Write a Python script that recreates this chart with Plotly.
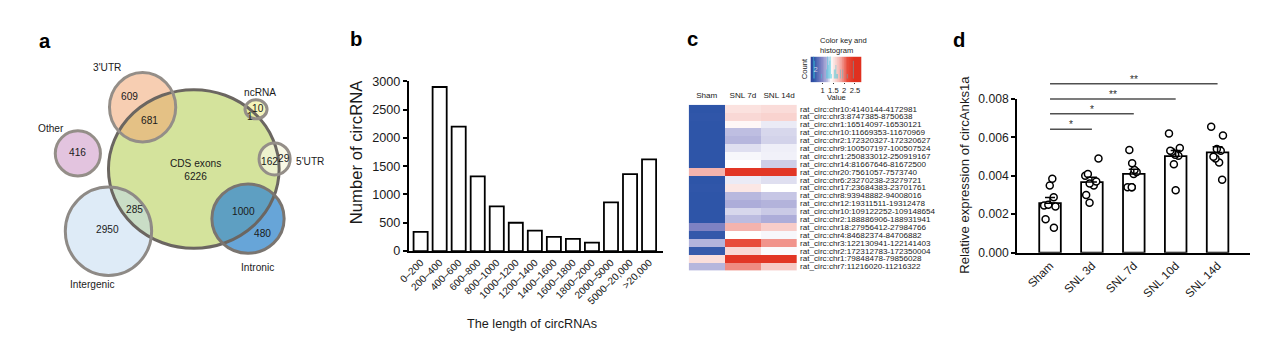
import numpy as np
import plotly.graph_objects as go

# ---------------- data ----------------
# a: genomic origin of circRNAs (counts per Venn region)
venn_regions = ["CDS exons", "3'UTR", "3'UTR+CDS", "ncRNA", "ncRNA+CDS", "5'UTR+CDS",
                "5'UTR", "Other", "Intergenic", "Intergenic+CDS", "Intronic+CDS", "Intronic"]
venn_counts = [6226, 609, 681, 10, 1, 162, 29, 416, 2950, 285, 1000, 480]

# b: length distribution
length_bins = ["0–200", "200–400", "400–600", "600–800", "800–1000", "1000–1200",
               "1200–1400", "1400–1600", "1600–1800", "1800–2000", "2000–5000",
               "5000–20,000", ">20,000"]
circ_counts = [340, 2900, 2200, 1320, 790, 500, 360, 250, 215, 150, 860, 1360, 1620]

# c: heatmap of differentially expressed circRNAs
heat_groups = ["Sham", "SNL 7d", "SNL 14d"]
circ_ids = [
    "rat_circ:chr10:4140144-4172981",
    "rat_circ:chr3:8747385-8750638",
    "rat_circ:chr1:16514097-16530121",
    "rat_circ:chr10:11669353-11670969",
    "rat_circ:chr2:172320327-172320627",
    "rat_circ:chr9:100507197-100507524",
    "rat_circ:chr1:250833012-250919167",
    "rat_circ:chr14:81667646-81672500",
    "rat_circ:chr20:7561057-7573740",
    "rat_circ:chr6:23270238-23279721",
    "rat_circ:chr17:23684383-23701761",
    "rat_circ:chr8:93948882-94008016",
    "rat_circ:chr12:19311511-19312478",
    "rat_circ:chr10:109122252-109148654",
    "rat_circ:chr2:188886906-188931941",
    "rat_circ:chr18:27956412-27984766",
    "rat_circ:chr4:84682374-84706882",
    "rat_circ:chr3:122130941-122141403",
    "rat_circ:chr2:172312783-172350004",
    "rat_circ:chr1:79848478-79856028",
    "rat_circ:chr7:11216020-11216322",
]
sham_expr = [0.59, 0.60, 0.59, 0.59, 0.59, 0.59, 0.59, 0.59, 1.80, 0.59, 0.60,
             0.59, 0.59, 0.59, 0.59, 0.95, 0.62, 1.205, 0.63, 1.57, 1.21]
snl7_expr = [1.55, 1.60, 1.43, 1.23, 1.21, 1.31, 1.37, 1.39, 2.40, 1.34, 1.52,
             1.215, 1.17, 1.29, 1.225, 1.80, 1.39, 2.15, 1.60, 2.40, 1.95]
snl14_expr = [1.58, 1.63, 1.34, 1.29, 1.28, 1.35, 1.355, 1.27, 2.40, 1.31, 1.39,
              1.25, 1.20, 1.26, 1.17, 1.66, 1.37, 1.92, 1.38, 2.40, 1.68]

# d: qPCR of circAnks1a
qpcr_groups = ["Sham", "SNL 3d", "SNL 7d", "SNL 10d", "SNL 14d"]
qpcr_sham = [0.00350, 0.00385, 0.00288, 0.00246, 0.00250, 0.00240, 0.00174, 0.00129]
qpcr_snl3 = [0.00490, 0.00400, 0.00410, 0.00360, 0.00370, 0.00350, 0.00300, 0.00260]
qpcr_snl7 = [0.00535, 0.00465, 0.00430, 0.00410, 0.00420, 0.00340, 0.00340, 0.00340]
qpcr_snl10 = [0.00620, 0.00545, 0.00530, 0.00525, 0.00510, 0.00505, 0.00460, 0.00325]
qpcr_snl14 = [0.00655, 0.00610, 0.00540, 0.00530, 0.00490, 0.00500, 0.00470, 0.00380]
sig_targets = ["SNL 3d", "SNL 7d", "SNL 10d", "SNL 14d"]
sig_marks = ["*", "*", "**", "**"]

# ---------------- page geometry ----------------
W, H = 1269, 337
# the html page keeps the browser's default 8px body margin, so the whole
# page (1285 x 353) ends up scaled into the 1269 x 337 frame
BODY = 8
SX = (W + 2 * BODY) / W
SY = (H + 2 * BODY) / H
FONT = "Liberation Sans, Arial, Helvetica, sans-serif"
INK = "#1a1a1a"


def fx(x):
    """frame x (px) -> paper fraction"""
    return (x * SX - BODY) / W


def fy(y):
    """frame y (px from top) -> paper fraction"""
    return 1 - (y * SY - BODY) / H


def fs(size):
    return round(size * SX, 2)


fig = go.Figure()
shapes = []
annotations = []

# ---------------- a: Venn diagram ----------------
A_X0, A_X1, A_Y0, A_Y1 = 10, 330, 10, 329
venn_geometry = {
    "CDS exons": dict(box=(105, 90, 275, 248), fill="#d4e39c", edge="#6b6661"),
    "Other": dict(box=(52, 131, 97, 176), fill="#e3c4df", edge="#948e88"),
    "Intergenic": dict(box=(62, 187, 148, 275), fill="rgba(190,215,240,0.5)", edge="#8e8a86"),
    "Intronic": dict(box=(208, 184, 280, 253), fill="rgba(60,140,205,0.78)", edge="#7a7570"),
    "3'UTR": dict(box=(106, 73, 172, 142), fill="rgba(240,165,115,0.55)", edge="#948e88"),
    "ncRNA": dict(box=(241, 100, 263, 119), fill="rgba(240,240,150,0.65)", edge="#948e88"),
    "5'UTR": dict(box=(255, 143, 286, 175), fill="rgba(246,246,222,0.75)", edge="#948e88"),
}
for g in venn_geometry.values():
    x0, y0, x1, y1 = g["box"]
    shapes.append(dict(type="circle", xref="x", yref="y", x0=x0, y0=y0, x1=x1, y1=y1,
                       fillcolor=g["fill"], line=dict(width=0), layer="above"))
for g in venn_geometry.values():
    x0, y0, x1, y1 = g["box"]
    shapes.append(dict(type="circle", xref="x", yref="y", x0=x0, y0=y0, x1=x1, y1=y1,
                       fillcolor="rgba(0,0,0,0)", line=dict(width=3, color=g["edge"]),
                       layer="above"))

set_label_pos = {
    "3'UTR": (104, 68, "center"), "ncRNA": (256, 93, "center"), "Other": (48, 129, "center"),
    "5'UTR": (290, 162, "left"), "Intergenic": (89, 284, "center"), "Intronic": (253, 267, "center"),
}
for name, (x, y, anc) in set_label_pos.items():
    annotations.append(dict(xref="x", yref="y", x=x, y=y, text=name, showarrow=False,
                            xanchor=anc, font=dict(size=fs(10), color=INK, family=FONT)))

region_pos = {
    "CDS exons": (192, 169.5), "3'UTR": (126, 97), "3'UTR+CDS": (146, 121),
    "ncRNA": (253.5, 109), "ncRNA+CDS": (246, 117), "5'UTR+CDS": (265, 162),
    "5'UTR": (279.5, 159), "Other": (74, 153), "Intergenic": (104, 229),
    "Intergenic+CDS": (131, 209), "Intronic+CDS": (240, 211), "Intronic": (258, 233),
}
for name, count in zip(venn_regions, venn_counts):
    x, y = region_pos[name]
    text = f"CDS exons<br>{count}" if name == "CDS exons" else str(count)
    annotations.append(dict(xref="x", yref="y", x=x, y=y, text=text, showarrow=False,
                            font=dict(size=fs(10), color=INK, family=FONT)))

fig.add_trace(go.Scatter(x=[], y=[], xaxis="x", yaxis="y", showlegend=False, hoverinfo="skip"))

# ---------------- b: length histogram ----------------
fig.add_trace(go.Bar(x=length_bins, y=circ_counts, xaxis="x2", yaxis="y2", width=0.74,
                     marker=dict(color="white", line=dict(color="black", width=1.8)),
                     showlegend=False))

# ---------------- c: heatmap + colour key ----------------
ZMIN, ZMAX = 0.43, 2.47
heat_scale = [
    [0.0, "#2d3c98"], [0.08, "#2e55a8"], [0.25, "#7c80c2"], [0.38, "#b4b4dc"],
    [0.47, "#ffffff"], [0.58, "#f9d6d2"], [0.70, "#f3a8a2"], [0.84, "#e84d3c"],
    [1.0, "#e0301f"],
]
heat_z = np.column_stack([sham_expr, snl7_expr, snl14_expr])
fig.add_trace(go.Heatmap(z=heat_z, x=heat_groups, y=circ_ids, xaxis="x3", yaxis="y3",
                         colorscale=heat_scale, zmin=ZMIN, zmax=ZMAX, showscale=False))

KEY_X0, KEY_X1 = 0.44, 2.81
KEY_YMIN, KEY_YMAX = -0.9, 4.93
key_edges = np.linspace(KEY_X0, KEY_X1, 81)
key_mid = (key_edges[:-1] + key_edges[1:]) / 2
fig.add_trace(go.Heatmap(z=[key_mid], x=key_edges, y=[KEY_YMIN, KEY_YMAX], xaxis="x4",
                         yaxis="y4", colorscale=heat_scale, zmin=ZMIN, zmax=ZMAX,
                         showscale=False, hoverinfo="skip"))
all_expr = np.concatenate([sham_expr, snl7_expr, snl14_expr])
fig.add_trace(go.Histogram(x=all_expr, xaxis="x4", yaxis="y4",
                           xbins=dict(start=KEY_X0, end=KEY_X1, size=0.04),
                           marker=dict(color="rgba(60,200,220,0.8)"), showlegend=False))

# ---------------- d: circAnks1a expression ----------------
qpcr_sets = [qpcr_sham, qpcr_snl3, qpcr_snl7, qpcr_snl10, qpcr_snl14]
means = [float(np.mean(v)) for v in qpcr_sets]
sems = [float(np.std(v, ddof=1) / np.sqrt(len(v))) for v in qpcr_sets]

fig.add_trace(go.Bar(x=qpcr_groups, y=means, xaxis="x5", yaxis="y5", width=0.515,
                     marker=dict(color="white", line=dict(color="black", width=1.8)),
                     showlegend=False))
pts_x = [g for g, v in zip(qpcr_groups, qpcr_sets) for _ in v]
pts_y = [y for v in qpcr_sets for y in v]
fig.add_trace(go.Box(x=pts_x, y=pts_y, xaxis="x5", yaxis="y5", boxpoints="all",
                     jitter=0.75, pointpos=0, width=0.5,
                     fillcolor="rgba(0,0,0,0)", line=dict(color="rgba(0,0,0,0)", width=0),
                     marker=dict(symbol="circle", size=7, color="white",
                                 line=dict(color="black", width=1.5)),
                     showlegend=False, hoverinfo="skip"))
fig.add_trace(go.Scatter(x=qpcr_groups, y=means, xaxis="x5", yaxis="y5", mode="markers",
                         marker=dict(size=1, opacity=0),
                         error_y=dict(type="data", array=sems, arrayminus=[0] * len(sems),
                                      symmetric=False, color="black", thickness=1.5, width=5),
                         showlegend=False, hoverinfo="skip"))

# significance brackets on an overlay sharing the x scale of panel d
fig.add_trace(go.Scatter(x=[], y=[], xaxis="x6", yaxis="y6", showlegend=False, hoverinfo="skip"))
bracket_levels = [0.00643, 0.00723, 0.0080, 0.0088]
for target, mark, lvl in zip(sig_targets, sig_marks, bracket_levels):
    k = qpcr_groups.index(target)
    shapes.append(dict(type="line", xref="x6", yref="y6", x0=0, x1=k, y0=lvl, y1=lvl,
                       line=dict(color="#505050", width=1.5)))
    annotations.append(dict(xref="x6", yref="y6", x=k / 2, y=lvl, text=mark, showarrow=False,
                            yanchor="bottom", yshift=-3,
                            font=dict(size=fs(10), color="#303030", family=FONT)))


# ---------------- free text ----------------
def note(x, y, text, size, angle=0, bold=False, anchor="center", align="center"):
    annotations.append(dict(xref="paper", yref="paper", x=fx(x), y=fy(y),
                            text=f"<b>{text}</b>" if bold else text, showarrow=False,
                            textangle=angle, xanchor=anchor, yanchor="middle", align=align,
                            font=dict(size=fs(size), color=INK if not bold else "black",
                                      family=FONT)))


note(42, 42, "a", 20, bold=True)
note(352, 40, "b", 20, bold=True)
note(687, 40, "c", 20, bold=True)
note(952, 41, "d", 20, bold=True)

note(353, 152, "Number of circRNA", 16.5, angle=-90)
note(527, 323, "The length of circRNAs", 12.5)
note(957, 175, "Relative expression of circAnks1a", 13, angle=-90)
note(812, 46, "Color key and<br>histogram", 7.5, anchor="left", align="left")
note(830, 98, "Value", 7.5)
note(798.5, 69, "Count", 7.5, angle=-90)

# ---------------- axes ----------------
axis_line = dict(showline=True, linecolor="black", linewidth=1.5, showgrid=False,
                 zeroline=False)
hidden = dict(visible=False, showgrid=False, zeroline=False)

fig.update_layout(
    width=W, height=H, autosize=False,
    margin=dict(l=0, r=0, t=0, b=0),
    paper_bgcolor="white", plot_bgcolor="rgba(0,0,0,0)",
    font=dict(family=FONT, color=INK),
    showlegend=False, bargap=0.35,
    shapes=shapes, annotations=annotations,
    xaxis=dict(domain=[fx(A_X0), fx(A_X1)], range=[A_X0, A_X1], anchor="y", **hidden),
    yaxis=dict(domain=[fy(A_Y1), fy(A_Y0)], range=[A_Y1, A_Y0], anchor="x", **hidden),
    xaxis2=dict(domain=[fx(404), fx(657)], anchor="y2", range=[-0.63, 12.71],
                type="category", tickangle=-45, ticks="",
                tickfont=dict(size=fs(10), color=INK), **axis_line),
    yaxis2=dict(domain=[fy(250.7), fy(81.7)], anchor="x2", range=[0, 3000],
                tickvals=[0, 500, 1000, 1500, 2000, 2500, 3000], ticks="outside",
                ticklen=4, tickwidth=1.5, tickcolor="black",
                tickfont=dict(size=fs(12.5), color=INK), **axis_line),
    xaxis3=dict(domain=[fx(683), fx(791)], anchor="y3", side="top", ticks="",
                showline=False, showgrid=False, zeroline=False, ticklabelstandoff=4,
                tickfont=dict(size=fs(8), color=INK)),
    yaxis3=dict(domain=[fy(270), fy(105)], anchor="x3", side="right", ticks="",
                tickmode="array", tickvals=circ_ids,
                autorange="reversed", showline=False, showgrid=False, zeroline=False,
                tickfont=dict(size=fs(8), color=INK), ticklabelstandoff=2),
    xaxis4=dict(domain=[fx(804.3), fx(855.3)], anchor="y4", range=[KEY_X0, KEY_X1],
                tickvals=[1, 1.5, 2, 2.5], ticktext=["1", "1.5", "2", "2.5"],
                ticks="outside", ticklen=1, tickcolor="#333", showline=False,
                showgrid=False, zeroline=False, tickfont=dict(size=fs(7.5), color=INK)),
    yaxis4=dict(domain=[fy(82.7), fy(57)], anchor="x4", range=[KEY_YMIN, KEY_YMAX],
                tickvals=[0, 2, 4], ticks="", ticklabelposition="inside",
                showline=False, showgrid=False, zeroline=False, layer="above traces",
                tickfont=dict(size=fs(7.5), color="#cfd3e8")),
    xaxis5=dict(domain=[fx(1010), fx(1242)], anchor="y5", range=[-0.79, 4.77],
                type="category", tickangle=-45, ticks="",
                tickfont=dict(size=fs(11.5), color=INK), **axis_line),
    yaxis5=dict(domain=[fy(252.3), fy(99.3)], anchor="x5", range=[0, 0.008],
                tickvals=[0, 0.002, 0.004, 0.006, 0.008], tickformat=".3f",
                ticks="outside", ticklen=4, tickwidth=1.5, tickcolor="black",
                tickfont=dict(size=fs(12), color=INK), **axis_line),
    xaxis6=dict(domain=[fx(1010), fx(1242)], anchor="y6", range=[-0.79, 4.77], **hidden),
    yaxis6=dict(domain=[fy(252.3), fy(74.4)], anchor="x6", range=[0, 0.0093], **hidden),
)

fig.write_html("out.html")
